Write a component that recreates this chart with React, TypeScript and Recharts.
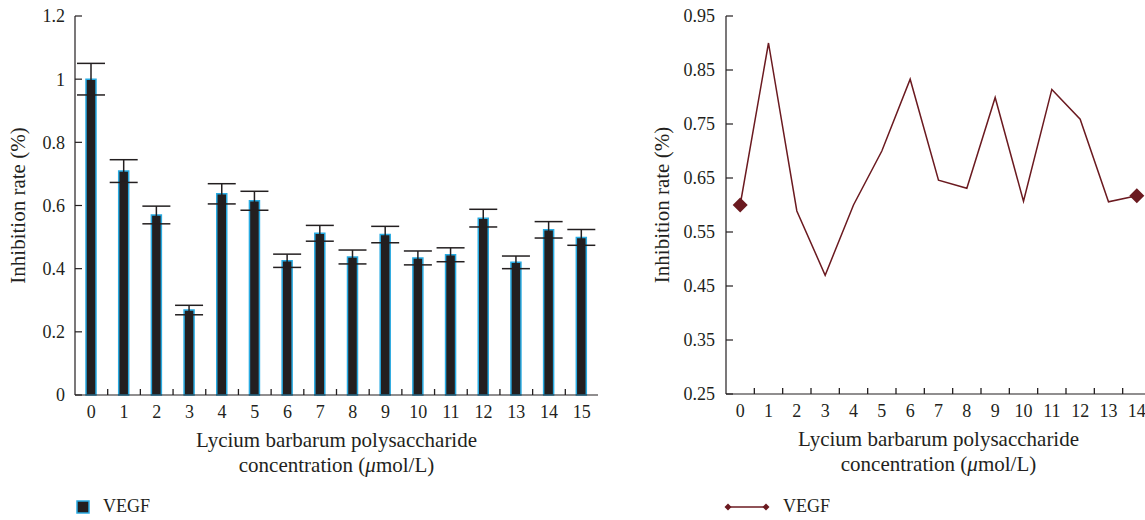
import React from "react";
import { BarChart, Bar, LineChart, Line, XAxis, YAxis, ErrorBar } from "recharts";

// values
const barCategories = ["0", "1", "2", "3", "4", "5", "6", "7", "8", "9", "10", "11", "12", "13", "14", "15"];
const barValues = [1.0, 0.709, 0.57, 0.269, 0.637, 0.615, 0.425, 0.512, 0.437, 0.508, 0.434, 0.444, 0.56, 0.42, 0.523, 0.499];
const barErrors = [0.05, 0.036, 0.028, 0.015, 0.032, 0.03, 0.021, 0.025, 0.022, 0.026, 0.022, 0.022, 0.028, 0.02, 0.026, 0.025];
const barTicks = [0, 0.2, 0.4, 0.6, 0.8, 1, 1.2];

const lineCategories = ["0", "1", "2", "3", "4", "5", "6", "7", "8", "9", "10", "11", "12", "13", "14"];
const lineValues = [0.6, 0.9, 0.589, 0.47, 0.6, 0.7, 0.833, 0.646, 0.631, 0.799, 0.607, 0.814, 0.759, 0.606, 0.617];
const lineTicks = [0.25, 0.35, 0.45, 0.55, 0.65, 0.75, 0.85, 0.95];

const barData = barCategories.map((c, i) => ({ c, v: barValues[i], err: barErrors[i] }));
const lineData = lineCategories.map((c, i) => ({ c, v: lineValues[i] }));

const INK = "#231f20";
const CYAN = "#29abe2";
const MAROON = "#6b1a20";
const FONT = "'Liberation Serif', 'DejaVu Serif', serif";
const FS = 18;
const TITLE_FS = 21;
const X_MARGIN = 10;

const tickText = { fill: INK, fontSize: FS, fontFamily: FONT };
const axisStroke = { stroke: INK, strokeWidth: 1.2 };

// chart boxes
const LEFT = { w: 600, yAxis: 75, right: 2 };
const RIGHT = { w: 521, yAxis: 86, right: 10 };

// category label plus an inward tick mark on the boundary to its right
const makeXTick = (cats: string[], plotWidth: number) => (props: any) => {
  const { x, y, payload } = props;
  const i = cats.indexOf(String(payload.value));
  const half = plotWidth / cats.length / 2;
  const axisY = y - X_MARGIN;
  return (
    <g>
      {i >= 0 && i < cats.length - 1 ? (
        <path d={`M${x + half},${axisY}V${axisY - 6}`} stroke={INK} strokeWidth={1.3} fill="none" />
      ) : null}
      <text x={x} y={y} dy="0.71em" textAnchor="middle" fill={INK} fontSize={FS} fontFamily={FONT}>
        {payload.value}
      </text>
    </g>
  );
};

const XTitle = (props: any) => {
  const { x, y, width } = props.viewBox;
  const cx = x + width / 2;
  return (
    <g fill={INK} fontSize={TITLE_FS} fontFamily={FONT} textAnchor="middle">
      <text x={cx} y={y + 52}>Lycium barbarum polysaccharide</text>
      <text x={cx} y={y + 77}>
        concentration (<tspan fontStyle="italic">μ</tspan>mol/L)
      </text>
    </g>
  );
};

const makeYTitle = (lx: number) => (props: any) => {
  const { y, height } = props.viewBox;
  const cy = y + height / 2;
  return (
    <text
      x={lx}
      y={cy}
      dy="0.35em"
      transform={`rotate(-90 ${lx} ${cy})`}
      textAnchor="middle"
      fill={INK}
      fontSize={TITLE_FS}
      fontFamily={FONT}
    >
      Inhibition rate (%)
    </text>
  );
};

const EndDiamond = (props: any) => {
  const { cx, cy, index } = props;
  if (index !== 0 && index !== lineValues.length - 1) return <g key={index} />;
  const r = 7.5;
  return <path key={index} d={`M${cx},${cy - r}L${cx + r},${cy}L${cx},${cy + r}L${cx - r},${cy}Z`} fill={MAROON} />;
};

export default function App() {
  return (
    <div style={{ position: "relative", width: 1145, height: 520, overflow: "hidden", background: "#fff", fontFamily: FONT }}>
      <style>{"body{margin:0}"}</style>

      {/* left: bar chart with error bars */}
      <div style={{ position: "absolute", left: 0, top: 0 }}>
        <BarChart width={LEFT.w} height={480} data={barData} margin={{ top: 16, right: LEFT.right, bottom: 0, left: 0 }}>
          <XAxis
            dataKey="c"
            height={85}
            interval={0}
            tickLine={false}
            tickSize={0}
            tickMargin={X_MARGIN}
            axisLine={axisStroke}
            tick={makeXTick(barCategories, LEFT.w - LEFT.yAxis - LEFT.right)}
            label={XTitle}
          />
          <YAxis
            width={LEFT.yAxis}
            domain={[0, 1.2]}
            ticks={barTicks}
            interval={0}
            tickLine={axisStroke}
            tickSize={-7}
            tickMargin={17}
            axisLine={axisStroke}
            tick={tickText}
            label={makeYTitle(18)}
          />
          <Bar dataKey="v" barSize={10} fill={INK} stroke={CYAN} strokeWidth={1.5} isAnimationActive={false}>
            <ErrorBar dataKey="err" width={14} stroke={INK} strokeWidth={1.5} />
          </Bar>
        </BarChart>
      </div>

      {/* right: line chart */}
      <div style={{ position: "absolute", left: 640, top: 0 }}>
        <LineChart width={RIGHT.w} height={480} data={lineData} margin={{ top: 16, right: RIGHT.right, bottom: 0, left: 0 }}>
          <XAxis
            dataKey="c"
            scale="band"
            height={86}
            interval={0}
            tickLine={false}
            tickSize={0}
            tickMargin={X_MARGIN}
            axisLine={axisStroke}
            tick={makeXTick(lineCategories, RIGHT.w - RIGHT.yAxis - RIGHT.right)}
            label={XTitle}
          />
          <YAxis
            width={RIGHT.yAxis}
            domain={[0.25, 0.95]}
            ticks={lineTicks}
            interval={0}
            tickLine={axisStroke}
            tickSize={-7}
            tickMargin={18}
            axisLine={axisStroke}
            tick={tickText}
            tickFormatter={(v: number) => v.toFixed(2)}
            label={makeYTitle(22)}
          />
          <Line
            dataKey="v"
            type="linear"
            stroke={MAROON}
            strokeWidth={1.5}
            dot={EndDiamond}
            activeDot={false}
            isAnimationActive={false}
          />
        </LineChart>
      </div>

      {/* legends */}
      <div style={{ position: "absolute", left: 76, top: 496, display: "flex", alignItems: "center", color: INK, fontSize: FS }}>
        <svg width={14} height={14} style={{ marginRight: 13 }}>
          <rect x={1} y={1} width={12} height={12} fill={INK} stroke={CYAN} strokeWidth={1.5} />
        </svg>
        <span>VEGF</span>
      </div>
      <div style={{ position: "absolute", left: 724, top: 496, display: "flex", alignItems: "center", color: INK, fontSize: FS }}>
        <svg width={46} height={14} style={{ marginRight: 13 }}>
          <line x1={4} x2={42} y1={7} y2={7} stroke={MAROON} strokeWidth={1.5} />
          <path d="M4,3.5L7.5,7L4,10.5L0.5,7Z" fill={MAROON} />
          <path d="M42,3.5L45.5,7L42,10.5L38.5,7Z" fill={MAROON} />
        </svg>
        <span>VEGF</span>
      </div>
    </div>
  );
}
